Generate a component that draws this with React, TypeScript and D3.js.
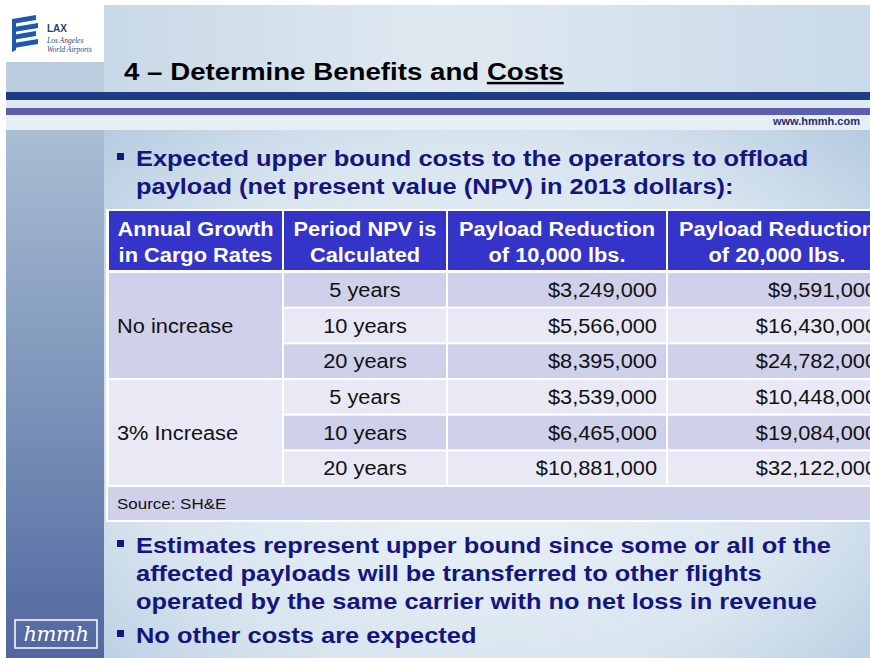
import React from 'react'
import * as d3 from 'd3'

// table content
const headers = [
  ['Annual Growth', 'in Cargo Rates'],
  ['Period NPV is', 'Calculated'],
  ['Payload Reduction', 'of 10,000 lbs.'],
  ['Payload Reduction', 'of 20,000 lbs.']
]
const growthGroups = ['No increase', '3% Increase']
const periods = ['5 years', '10 years', '20 years']
const npv10k = [3249000, 5566000, 8395000, 3539000, 6465000, 10881000]
const npv20k = [9591000, 16430000, 24782000, 10448000, 19084000, 32122000]

const bullet1 = [
  'Expected upper bound costs to the operators to offload',
  'payload (net present value (NPV) in 2013 dollars):'
]
const bullet2 = [
  'Estimates represent upper bound since some or all of the',
  'affected payloads will be transferred to other flights',
  'operated by the same carrier with no net loss in revenue'
]
const bullet3 = ['No other costs are expected']

const W = 870
const H = 658
const font = '"Liberation Sans", Arial, sans-serif'
const navy = '#15157e'
const dark = '#cfd0ea'
const light = '#e9e9f5'
const stretch = 1.13

const rowIds = d3.range(npv10k.length)
const y = d3.scaleBand<number>().domain(rowIds).range([272, 486])
const colWidths = [175, 164, 220, 220]
const colEdges = d3.cumsum([108, ...colWidths])
const x = d3.scaleOrdinal<number, number>().domain(d3.range(4)).range(colEdges)
const money = (v: number) => '$' + d3.format(',')(v)

// slide text is a bit wider than Liberation Sans, so stretch it horizontally
function T({ x, y, children, ...rest }: any) {
  return (
    <text transform={`translate(${x},${y}) scale(${stretch},1)`} {...rest}>
      {children}
    </text>
  )
}

function Bullet({ lines, top }: { lines: string[]; top: number }) {
  return (
    <g>
      <rect x={117} y={top - 13} width={7} height={7} fill={navy} />
      {lines.map((l, i) => (
        <T key={i} x={136} y={top + i * 28} fontSize={22.5} fontWeight="bold" fill={navy}>
          {l}
        </T>
      ))}
    </g>
  )
}

export default function App() {
  const bw = y.bandwidth()
  return (
    <svg width={W} height={H} style={{ position: 'absolute', left: 0, top: 0 }} fontFamily={font}>
      <defs>
        <radialGradient id="bg" cx="0.55" cy="0.62" r="0.75">
          <stop offset="0" stopColor="#f1f6f9" />
          <stop offset="0.55" stopColor="#d8e5ef" />
          <stop offset="1" stopColor="#9fbad6" />
        </radialGradient>
        <linearGradient id="top" x1="0" x2="1" y1="0" y2="0">
          <stop offset="0" stopColor="#c3d4e4" />
          <stop offset="0.5" stopColor="#dfe9f1" />
          <stop offset="1" stopColor="#c9d9e8" />
        </linearGradient>
        <linearGradient id="side" x1="0" x2="0" y1="0" y2="1">
          <stop offset="0" stopColor="#a9bdd3" />
          <stop offset="0.5" stopColor="#7d94ba" />
          <stop offset="1" stopColor="#5167a0" />
        </linearGradient>
      </defs>
      <rect width={W} height={H} fill="#ffffff" />
      <rect x={6} y={5} width={W} height={H} fill="url(#bg)" />
      <rect x={6} y={5} width={W} height={88} fill="url(#top)" />
      <rect x={6} y={62} width={98} height={31} fill="#bccde0" />
      <rect x={6} y={92} width={W} height={8} fill="#1f3a86" />
      <rect x={6} y={100} width={W} height={8} fill="#dfe8f0" />
      <rect x={6} y={108} width={W} height={7} fill="#5a5fae" />
      <rect x={6} y={115} width={W} height={15} fill="#e7eef4" />
      <rect x={6} y={130} width={98} height={H - 130} fill="url(#side)" />

      {/* LAX logo */}
      <rect x={6} y={5} width={98} height={57} fill="#ffffff" />
      {d3.range(4).map(i => (
        <path key={i} d={`M${12 + (i % 2) * 2},${19 + i * 8} l24,-4 l0,5 l-24,4 z`} fill="#1f5aa8" />
      ))}
      <path d="M12,22 l4,-2 l0,30 l-4,2 z" fill="#1f5aa8" />
      <text x={47} y={32} fontSize={10} fontWeight="bold" fill="#2a3f6e">LAX</text>
      <text x={47} y={43} fontSize={7.5} fontStyle="italic" fill="#2a4a86" fontFamily='"Liberation Serif", serif'>Los Angeles</text>
      <text x={47} y={52} fontSize={7.5} fontStyle="italic" fill="#2a4a86" fontFamily='"Liberation Serif", serif'>World Airports</text>

      <T x={124} y={80} fontSize={24.5} fontWeight="bold" fill="#000">
        4 – Determine Benefits and <tspan textDecoration="underline">Costs</tspan>
      </T>
      <text x={860} y={125} fontSize={11} fontWeight="bold" textAnchor="end" fill="#1e2f66">www.hmmh.com</text>

      <Bullet lines={bullet1} top={166} />

      {/* table */}
      <rect x={106} y={209} width={W} height={313} fill="#ffffff" />
      {headers.map((h, c) => (
        <g key={c}>
          <rect x={x(c) + 1} y={211} width={colWidths[c] - 2} height={59} fill="#3434c9" />
          {h.map((t, k) => (
            <T key={k} x={x(c) + colWidths[c] / 2} y={236 + k * 26} fontSize={19.3} fontWeight="bold"
              fill="#fff" textAnchor="middle">{t}</T>
          ))}
        </g>
      ))}
      {growthGroups.map((g, gi) => {
        const y0 = y(gi * 3)!
        const h = bw * 3
        return (
          <g key={g}>
            <rect x={x(0) + 1} y={y0 + 1} width={colWidths[0] - 2} height={h - 2} fill={gi === 0 ? dark : light} />
            <T x={117} y={y0 + h / 2 + 7} fontSize={19.3} fill="#111">{g}</T>
          </g>
        )
      })}
      {rowIds.map(r => {
        const fill = r % 2 === 0 ? dark : light
        const cy = y(r)! + bw / 2 + 7
        return (
          <g key={r}>
            {[1, 2, 3].map(c => (
              <rect key={c} x={x(c) + 1} y={y(r)! + 1} width={colWidths[c] - 2} height={bw - 2} fill={fill} />
            ))}
            <T x={x(1) + colWidths[1] / 2} y={cy} fontSize={19.3} textAnchor="middle" fill="#111">
              {periods[r % 3]}
            </T>
            <T x={x(3) - 10} y={cy} fontSize={19.3} textAnchor="end" fill="#111">{money(npv10k[r])}</T>
            <T x={x(4) - 10} y={cy} fontSize={19.3} textAnchor="end" fill="#111">{money(npv20k[r])}</T>
          </g>
        )
      })}
      <rect x={108} y={487} width={W} height={33} fill={dark} />
      <T x={117} y={509} fontSize={15} fill="#111">Source: SH&amp;E</T>

      <Bullet lines={bullet2} top={553} />
      <Bullet lines={bullet3} top={643} />

      {/* hmmh logo */}
      <rect x={15} y={620} width={82} height={28} fill="none" stroke="#ffffff" strokeWidth={1.5} />
      <text x={56} y={641} fontSize={21} fontStyle="italic" fill="#ffffff" textAnchor="middle"
        fontFamily='"DejaVu Serif", serif' letterSpacing={-0.5}>hmmh</text>
    </svg>
  )
}
